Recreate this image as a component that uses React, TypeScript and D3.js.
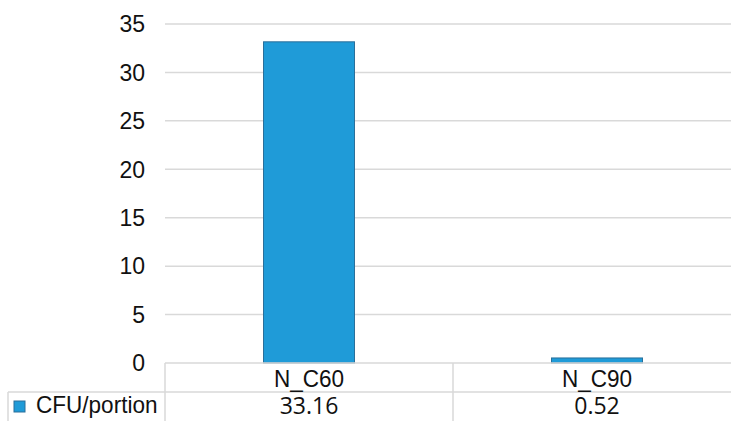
import React from "react";
import * as d3 from "d3";

const categories = ["N_C60", "N_C90"];
const seriesName = "CFU/portion";
const values = [33.16, 0.52];
const valueLabels = ["33.16", "0.52"];
const yTicks = [0, 5, 10, 15, 20, 25, 30, 35];

const W = 731;
const H = 421;
const plotLeft = 165;
const plotRight = 741;
const plotTop = 24;
const plotBottom = 363;
const rowMid = 392;
const tableBottom = 421;

export default function App() {
  const x = d3.scaleBand<string>().domain(categories).range([plotLeft, plotRight]).paddingInner(0).paddingOuter(0);
  const y = d3.scaleLinear().domain([0, 35]).range([plotBottom, plotTop]);
  const barW = 91;
  const font = "'Liberation Sans', Arial, sans-serif";
  const gridColor = "#d9d9d9";
  const barFill = "#1f9bd8";
  const barStroke = "#2a6f9a";

  return (
    <svg width={W} height={H} style={{ position: "absolute", left: 0, top: 0, background: "#fff" }}>
      {/* gridlines and value axis */}
      {yTicks.map((t) => (
        <g key={t}>
          {t > 0 && (
            <line x1={plotLeft} x2={plotRight} y1={y(t)} y2={y(t)} stroke={gridColor} strokeWidth={1.5} />
          )}
          <text x={145} y={y(t)} dy="0.36em" textAnchor="end" fontFamily={font} fontSize={23} fill="#111">
            {t}
          </text>
        </g>
      ))}

      {/* bars */}
      {categories.map((c, i) => {
        const cx = (x(c) as number) + x.bandwidth() / 2;
        return (
          <rect
            key={c}
            x={cx - barW / 2}
            y={y(values[i])}
            width={barW}
            height={plotBottom - y(values[i])}
            fill={barFill}
            stroke={barStroke}
            strokeWidth={1}
          />
        );
      })}

      {/* data table */}
      <g stroke={gridColor} strokeWidth={1.5} fill="none">
        <line x1={plotLeft} x2={plotRight} y1={plotBottom} y2={plotBottom} />
        <line x1={8} x2={plotRight} y1={rowMid} y2={rowMid} />
        <line x1={plotLeft} x2={plotLeft} y1={plotBottom} y2={tableBottom} />
        <line x1={8} x2={8} y1={rowMid} y2={tableBottom} />
        {categories.slice(1).map((c) => (
          <line key={c} x1={x(c) as number} x2={x(c) as number} y1={plotBottom} y2={tableBottom} />
        ))}
      </g>

      {categories.map((c, i) => {
        const cx = (x(c) as number) + x.bandwidth() / 2;
        return (
          <g key={c}>
            <text
              x={cx}
              y={387}
              textAnchor="middle"
              fontFamily={font}
              fontSize={24}
              fill="#111"
              transform={`translate(${cx},0) scale(0.94,1) translate(${-cx},0)`}
            >
              {c}
            </text>
            <text x={cx} y={414} textAnchor="middle" fontFamily="'Open Sans', sans-serif" fontSize={23} fill="#111">
              {valueLabels[i]}
            </text>
          </g>
        );
      })}

      {/* legend key */}
      <rect x={14} y={401} width={11} height={11} fill={barFill} stroke={barStroke} strokeWidth={1} />
      <text
        x={36}
        y={413}
        fontFamily={font}
        fontSize={23}
        fill="#111"
        transform={`translate(36,0) scale(0.98,1) translate(-36,0)`}
      >
        {seriesName}
      </text>
    </svg>
  );
}
